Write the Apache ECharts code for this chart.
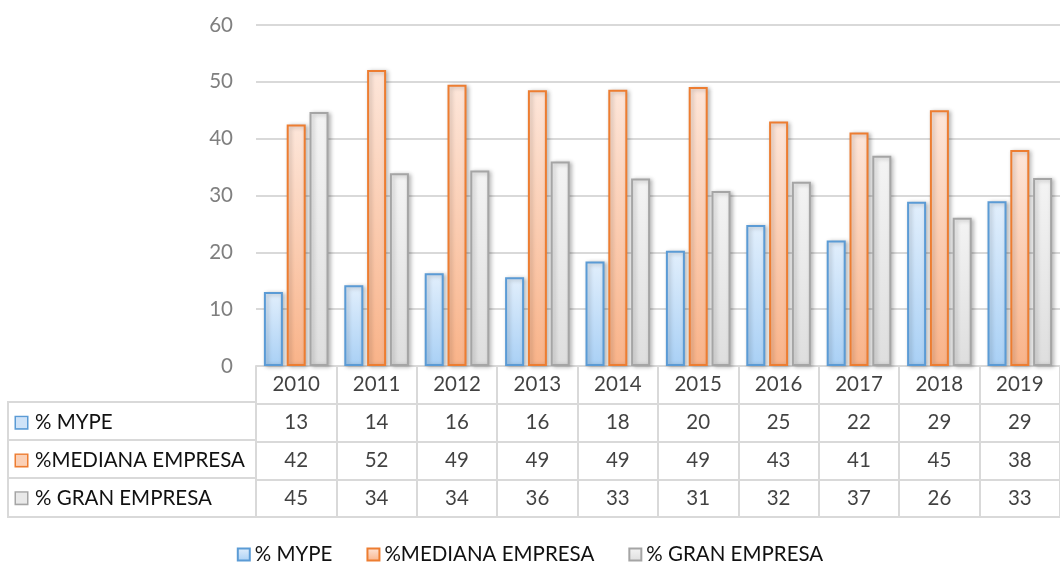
<!DOCTYPE html>
<html lang="es">
<head>
    <meta charset="UTF-8">
    <title>MYPE / Mediana / Gran empresa</title>
    <style>
        html, body { margin: 0; padding: 0; background: #fff; }
        #chart { width: 1060px; height: 562px; }
    </style>
</head>
<body>
    <div id="chart"></div>
    <script src="https://cdn.jsdelivr.net/npm/echarts@6/dist/echarts.min.js"></script>
    <script>
        // datos
        const years = ['2010', '2011', '2012', '2013', '2014', '2015', '2016', '2017', '2018', '2019'];
        const mype    = [13.0, 14.2, 16.3, 15.6, 18.4, 20.3, 24.8, 22.1, 28.9, 29.0];
        const mediana = [42.5, 52.1, 49.5, 48.5, 48.6, 49.1, 43.0, 41.1, 45.0, 38.0];
        const gran    = [44.7, 33.9, 34.4, 36.0, 33.0, 30.8, 32.4, 37.0, 26.1, 33.1];
        // valores de la tabla (redondeados)
        const tablaMype    = [13, 14, 16, 16, 18, 20, 25, 22, 29, 29];
        const tablaMediana = [42, 52, 49, 49, 49, 49, 43, 41, 45, 38];
        const tablaGran    = [45, 34, 34, 36, 33, 31, 32, 37, 26, 33];
        const seriesNames = ['% MYPE', '%MEDIANA EMPRESA', '% GRAN EMPRESA'];
        const filas = ['', 'mype', 'mediana', 'gran'];

        const FONT = 'Lato';
        const FS = 20.5;
        const gridLine = '#d9d9d9';
        const txt = '#111';

        function grad(top, bottom) {
            return new echarts.graphic.LinearGradient(0, 0, 0, 1, [
                { offset: 0, color: top },
                { offset: 1, color: bottom }
            ]);
        }

        const estilos = [
            { fill: grad('#e2effc', '#a9d0f5'), border: '#5b9bd5', box: '#cfe3f8' },
            { fill: grad('#fde6da', '#f9b389'), border: '#ed7d31', box: '#fbd0b6' },
            { fill: grad('#f4f4f4', '#dedede'), border: '#a5a5a5', box: '#e9e9e9' }
        ];

        function barSerie(idx, data) {
            return {
                name: seriesNames[idx],
                type: 'bar',
                xAxisIndex: 0,
                yAxisIndex: 0,
                data: data,
                barWidth: 19,
                barGap: '20%',
                itemStyle: {
                    color: estilos[idx].fill,
                    borderColor: estilos[idx].border,
                    borderWidth: 2,
                    shadowColor: 'rgba(0,0,0,0.25)',
                    shadowBlur: 4,
                    shadowOffsetX: 2,
                    shadowOffsetY: 1
                }
            };
        }

        // celdas de la tabla: [columna, fila, texto]
        let celdas = [];
        years.forEach(function(y, i) {
            celdas.push([i, 0, y]);
            celdas.push([i, 1, tablaMype[i]]);
            celdas.push([i, 2, tablaMediana[i]]);
            celdas.push([i, 3, tablaGran[i]]);
        });

        let myChart = echarts.init(document.getElementById('chart'));

        let option = {
            animation: false,
            backgroundColor: '#fff',
            textStyle: { fontFamily: FONT },
            legend: {
                top: 539,
                left: 'center',
                icon: 'rect',
                itemWidth: 12,
                itemHeight: 12,
                itemGap: 34,
                textStyle: { fontSize: FS, color: txt, fontFamily: FONT },
                data: seriesNames
            },
            grid: [
                { left: 256, right: -13, top: 25, bottom: 196 },
                { left: 256, right: -13, top: 366, bottom: 45 }
            ],
            xAxis: [
                {
                    type: 'category',
                    gridIndex: 0,
                    data: years,
                    axisLine: { lineStyle: { color: gridLine, width: 2 } },
                    axisTick: { show: false },
                    axisLabel: { show: false }
                },
                {
                    type: 'category',
                    gridIndex: 1,
                    data: years,
                    axisLine: { lineStyle: { color: gridLine, width: 2 } },
                    axisTick: { show: false },
                    axisLabel: { show: false },
                    splitLine: { show: true, interval: 0, lineStyle: { color: gridLine, width: 2 } }
                }
            ],
            yAxis: [
                {
                    type: 'value',
                    gridIndex: 0,
                    min: 0,
                    max: 60,
                    interval: 10,
                    axisLine: { show: false },
                    axisTick: { show: false },
                    axisLabel: { color: '#7f7f7f', fontSize: FS, margin: 23, fontFamily: FONT },
                    splitLine: { lineStyle: { color: gridLine, width: 2 } }
                },
                {
                    type: 'category',
                    gridIndex: 1,
                    inverse: true,
                    data: filas,
                    axisLine: { show: false },
                    axisTick: { show: false },
                    splitLine: { show: true, interval: 0, lineStyle: { color: gridLine, width: 2 } },
                    axisLabel: {
                        margin: 240,
                        align: 'left',
                        fontSize: FS,
                        color: txt,
                        fontFamily: FONT,
                        formatter: function(v) {
                            let i = filas.indexOf(v) - 1;
                            if (i < 0) return '';
                            return '{b' + i + '|}{t|' + seriesNames[i] + '}';
                        },
                        rich: {
                            b0: { width: 11, height: 11, backgroundColor: estilos[0].box, borderColor: estilos[0].border, borderWidth: 1.5 },
                            b1: { width: 11, height: 11, backgroundColor: estilos[1].box, borderColor: estilos[1].border, borderWidth: 1.5 },
                            b2: { width: 11, height: 11, backgroundColor: estilos[2].box, borderColor: estilos[2].border, borderWidth: 1.5 },
                            t: { fontSize: FS, color: txt, fontFamily: FONT, padding: [0, 0, 0, 8] }
                        }
                    }
                }
            ],
            graphic: [
                {
                    type: 'rect',
                    shape: { x: 8, y: 402, width: 248, height: 115 },
                    style: { fill: 'none', stroke: gridLine, lineWidth: 2 },
                    z: 10
                },
                {
                    type: 'line',
                    shape: { x1: 8, y1: 440, x2: 256, y2: 440 },
                    style: { stroke: gridLine, lineWidth: 2 },
                    z: 10
                },
                {
                    type: 'line',
                    shape: { x1: 8, y1: 478, x2: 256, y2: 478 },
                    style: { stroke: gridLine, lineWidth: 2 },
                    z: 10
                }
            ],
            series: [
                barSerie(0, mype),
                barSerie(1, mediana),
                barSerie(2, gran),
                {
                    type: 'scatter',
                    xAxisIndex: 1,
                    yAxisIndex: 1,
                    symbolSize: 0,
                    silent: true,
                    data: celdas,
                    label: {
                        show: true,
                        position: 'inside',
                        fontSize: FS,
                        color: txt,
                        fontFamily: FONT,
                        formatter: function(p) { return String(p.data[2]); }
                    }
                }
            ]
        };

        myChart.setOption(option);
    </script>
</body>
</html>
